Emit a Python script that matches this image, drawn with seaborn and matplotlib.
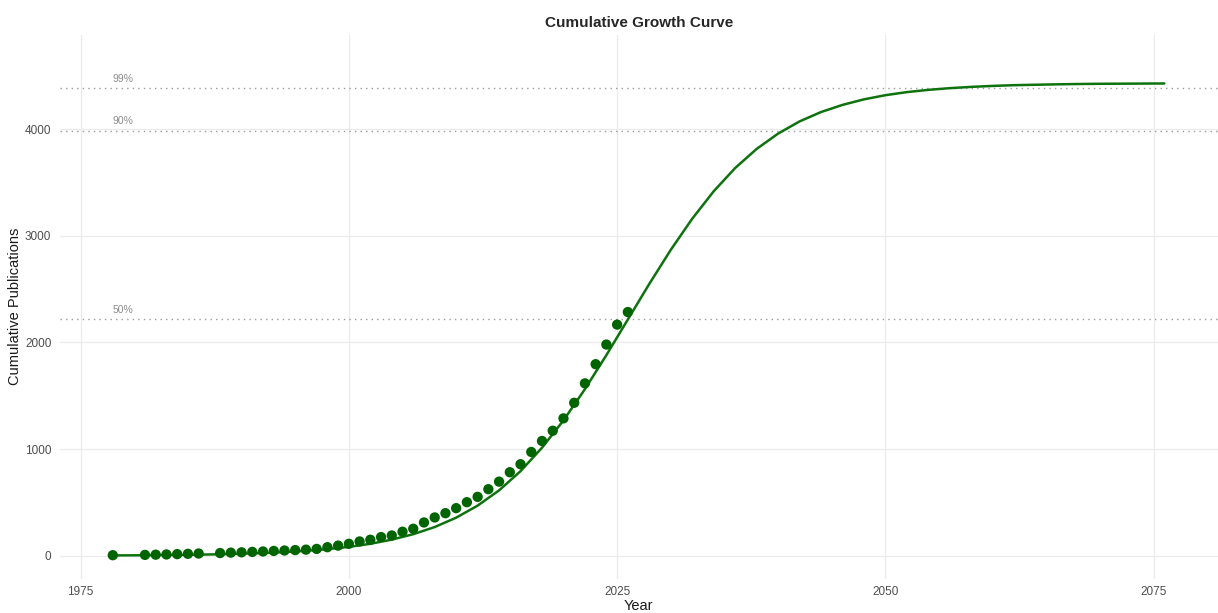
import numpy as np
import pandas as pd
import seaborn as sns
import matplotlib.pyplot as plt

# observed cumulative publications
obs_years = [1978, 1981, 1982, 1983, 1984, 1985, 1986,
             1988, 1989, 1990, 1991, 1992, 1993, 1994, 1995, 1996, 1997, 1998, 1999,
             2000, 2001, 2002, 2003, 2004, 2005, 2006, 2007, 2008, 2009,
             2010, 2011, 2012, 2013, 2014, 2015, 2016, 2017, 2018, 2019,
             2020, 2021, 2022, 2023, 2024, 2025, 2026]
obs_values = [5, 8, 10, 12, 15, 18, 21,
              25, 29, 32, 36, 40, 45, 49, 53, 57, 64, 80, 95,
              112, 134, 150, 175, 190, 225, 253, 312, 359, 399,
              446, 502, 552, 624, 695, 783, 858, 973, 1076, 1172,
              1288, 1434, 1616, 1796, 1980, 2167, 2285]

# fitted growth curve, every two years
fit_years = list(range(1978, 2077, 2))
fit_values = [3, 4, 6, 7, 10, 14, 19, 25, 34, 46,
              62, 83, 112, 151, 202, 269, 357, 470, 613, 793,
              1013, 1269, 1562, 1881, 2215, 2549, 2868, 3160, 3417, 3635,
              3814, 3958, 4072, 4160, 4227, 4279, 4318, 4347, 4368, 4384,
              4396, 4405, 4412, 4416, 4420, 4423, 4425, 4426, 4427, 4428]

# saturation thresholds
level_labels = ["50%", "90%", "99%"]
level_values = [2215, 3987, 4386]

obs = pd.DataFrame({"year": obs_years, "cum": obs_values})
fit = pd.DataFrame({"year": fit_years, "cum": fit_values})

sns.set_theme(style="whitegrid")
plt.rcParams["font.family"] = ["Liberation Sans", "DejaVu Sans"]

fig = plt.figure(figsize=(12.18, 6.13), dpi=100)
ax = fig.add_axes([0.049, 0.056, 0.951, 0.887])

for lab, val in zip(level_labels, level_values):
    ax.axhline(val, color="#9a9a9a", linestyle=(0, (1, 3)), linewidth=1, zorder=1)
    ax.annotate(lab, xy=(1978, val), xytext=(0, 3), textcoords="offset points",
                ha="left", va="bottom", fontsize=7.5, color="#8c8c8c")

sns.lineplot(data=fit, x="year", y="cum", color="#0e720e", linewidth=1.8, ax=ax, zorder=2)
sns.scatterplot(data=obs, x="year", y="cum", color="#006400", s=55,
                edgecolor="none", ax=ax, zorder=3)

ax.set_xlim(1973.05, 2081.0)
ax.set_ylim(-215, 4883)
ax.set_xticks([1975, 2000, 2025, 2050, 2075])
ax.set_yticks([0, 1000, 2000, 3000, 4000])
ax.grid(True, color="#ebebeb", linewidth=0.9)
for s in ax.spines.values():
    s.set_visible(False)
ax.tick_params(axis="both", length=0, labelsize=8.5, labelcolor="#4d4d4d")
ax.tick_params(axis="x", pad=5)
ax.tick_params(axis="y", pad=6)

ax.set_xlabel("Year", fontsize=10.5, color="#1a1a1a", labelpad=1)
ax.set_ylabel("Cumulative Publications", fontsize=10.5, color="#1a1a1a", labelpad=2)
ax.set_title("Cumulative Growth Curve", fontsize=11, fontweight="bold", pad=6)

fig.savefig("out.png", dpi=100)
